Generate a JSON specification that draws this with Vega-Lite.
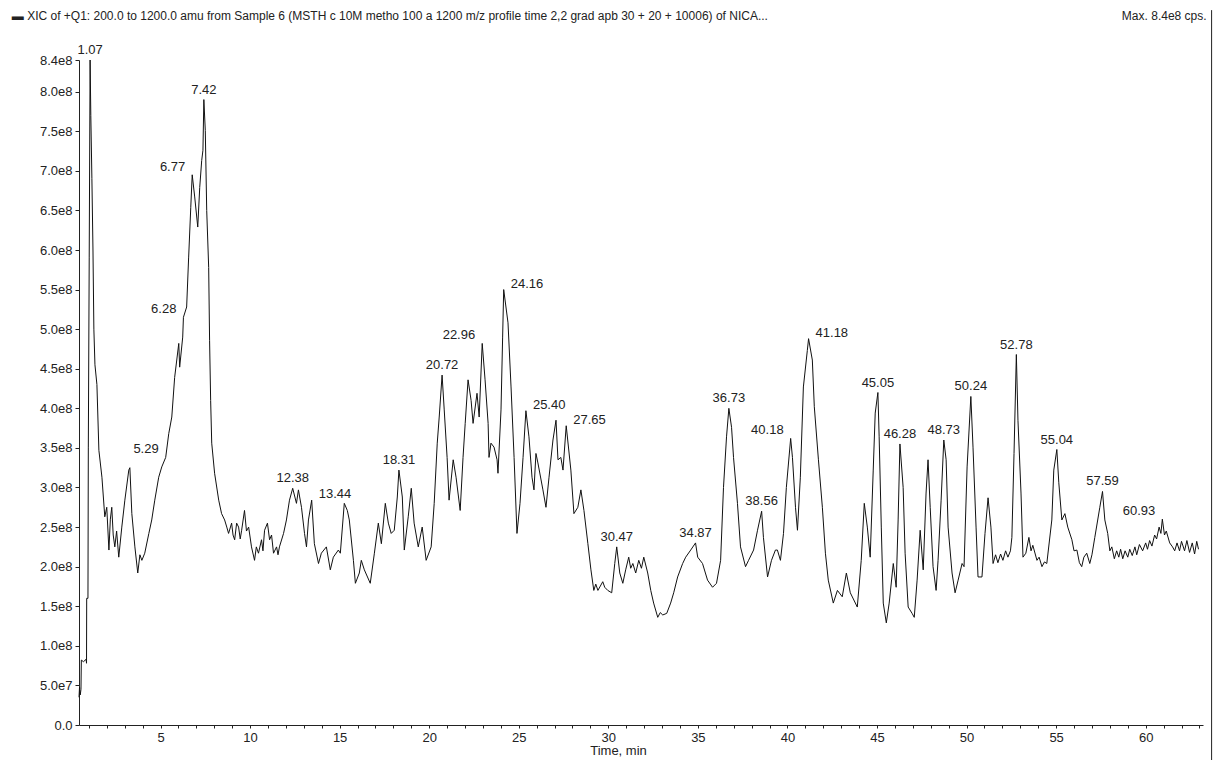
{
  "$schema": "https://vega.github.io/schema/vega-lite/v6.json",
  "width": 1124,
  "height": 665,
  "autosize": "none",
  "padding": {"left": 79, "top": 60, "right": 18, "bottom": 35},
  "background": "white",
  "config": {
    "view": {"stroke": null},
    "font": "Liberation Sans",
    "text": {"font": "Liberation Sans"},
    "axis": {"labelOverlap": false}
  },
  "datasets": {
    "trace": [
      {"t": 0.45, "intensity": 3.5e7}, {"t": 0.48, "intensity": 4.8e7}, {"t": 0.52, "intensity": 3.8e7}, {"t": 0.56, "intensity": 4.5e7},
      {"t": 0.58, "intensity": 8.2e7}, {"t": 0.7, "intensity": 8.0e7}, {"t": 0.85, "intensity": 8.3e7}, {"t": 0.87, "intensity": 7.8e7},
      {"t": 0.88, "intensity": 1.6e8}, {"t": 0.95, "intensity": 1.6e8}, {"t": 0.97, "intensity": 3.5e8}, {"t": 1.02, "intensity": 5.9e8},
      {"t": 1.07, "intensity": 8.4e8}, {"t": 1.11, "intensity": 7.7e8}, {"t": 1.17, "intensity": 6.9e8}, {"t": 1.23, "intensity": 6.0e8},
      {"t": 1.28, "intensity": 5.0e8}, {"t": 1.34, "intensity": 4.55e8}, {"t": 1.45, "intensity": 4.3e8}, {"t": 1.56, "intensity": 3.47e8},
      {"t": 1.73, "intensity": 3.13e8}, {"t": 1.89, "intensity": 2.63e8}, {"t": 2.0, "intensity": 2.75e8}, {"t": 2.12, "intensity": 2.21e8},
      {"t": 2.2, "intensity": 2.6e8}, {"t": 2.28, "intensity": 2.75e8}, {"t": 2.36, "intensity": 2.4e8},
      {"t": 2.45, "intensity": 2.25e8}, {"t": 2.55, "intensity": 2.45e8}, {"t": 2.67, "intensity": 2.12e8}, {"t": 2.84, "intensity": 2.5e8}, {"t": 3.01, "intensity": 2.84e8},
      {"t": 3.23, "intensity": 3.22e8}, {"t": 3.29, "intensity": 3.25e8}, {"t": 3.4, "intensity": 2.67e8}, {"t": 3.57, "intensity": 2.25e8},
      {"t": 3.73, "intensity": 1.92e8}, {"t": 3.85, "intensity": 2.15e8}, {"t": 3.96, "intensity": 2.08e8}, {"t": 4.12, "intensity": 2.17e8}, {"t": 4.35, "intensity": 2.42e8},
      {"t": 4.51, "intensity": 2.59e8}, {"t": 4.68, "intensity": 2.84e8}, {"t": 4.9, "intensity": 3.13e8}, {"t": 5.07, "intensity": 3.26e8},
      {"t": 5.29, "intensity": 3.38e8}, {"t": 5.46, "intensity": 3.68e8}, {"t": 5.63, "intensity": 3.89e8}, {"t": 5.79, "intensity": 4.39e8},
      {"t": 6.02, "intensity": 4.82e8}, {"t": 6.07, "intensity": 4.52e8}, {"t": 6.24, "intensity": 4.9e8}, {"t": 6.28, "intensity": 5.15e8},
      {"t": 6.46, "intensity": 5.28e8}, {"t": 6.57, "intensity": 5.9e8}, {"t": 6.69, "intensity": 6.54e8}, {"t": 6.77, "intensity": 6.95e8},
      {"t": 6.91, "intensity": 6.67e8}, {"t": 7.08, "intensity": 6.29e8}, {"t": 7.19, "intensity": 6.79e8}, {"t": 7.3, "intensity": 7.13e8},
      {"t": 7.37, "intensity": 7.26e8}, {"t": 7.42, "intensity": 7.9e8}, {"t": 7.5, "intensity": 7.51e8}, {"t": 7.58, "intensity": 6.5e8},
      {"t": 7.69, "intensity": 5.78e8}, {"t": 7.74, "intensity": 4.86e8}, {"t": 7.8, "intensity": 4.1e8}, {"t": 7.86, "intensity": 3.56e8},
      {"t": 8.02, "intensity": 3.18e8}, {"t": 8.25, "intensity": 2.84e8}, {"t": 8.41, "intensity": 2.67e8}, {"t": 8.58, "intensity": 2.59e8},
      {"t": 8.7, "intensity": 2.5e8}, {"t": 8.8, "intensity": 2.42e8}, {"t": 8.97, "intensity": 2.55e8}, {"t": 9.05, "intensity": 2.4e8}, {"t": 9.14, "intensity": 2.34e8}, {"t": 9.25, "intensity": 2.55e8}, {"t": 9.36, "intensity": 2.5e8},
      {"t": 9.45, "intensity": 2.35e8}, {"t": 9.53, "intensity": 2.46e8}, {"t": 9.69, "intensity": 2.71e8}, {"t": 9.8, "intensity": 2.45e8}, {"t": 9.92, "intensity": 2.5e8}, {"t": 10.08, "intensity": 2.25e8},
      {"t": 10.25, "intensity": 2.08e8}, {"t": 10.35, "intensity": 2.25e8}, {"t": 10.47, "intensity": 2.17e8}, {"t": 10.64, "intensity": 2.34e8}, {"t": 10.72, "intensity": 2.2e8}, {"t": 10.81, "intensity": 2.46e8},
      {"t": 10.97, "intensity": 2.55e8}, {"t": 11.09, "intensity": 2.34e8}, {"t": 11.2, "intensity": 2.4e8}, {"t": 11.31, "intensity": 2.17e8}, {"t": 11.48, "intensity": 2.25e8},
      {"t": 11.56, "intensity": 2.15e8}, {"t": 11.64, "intensity": 2.25e8}, {"t": 11.87, "intensity": 2.42e8}, {"t": 12.03, "intensity": 2.59e8}, {"t": 12.2, "intensity": 2.84e8},
      {"t": 12.38, "intensity": 2.99e8}, {"t": 12.59, "intensity": 2.8e8}, {"t": 12.7, "intensity": 2.97e8}, {"t": 12.87, "intensity": 2.75e8},
      {"t": 13.04, "intensity": 2.42e8}, {"t": 13.15, "intensity": 2.25e8}, {"t": 13.26, "intensity": 2.59e8}, {"t": 13.44, "intensity": 2.84e8},
      {"t": 13.59, "intensity": 2.29e8}, {"t": 13.82, "intensity": 2.04e8}, {"t": 13.98, "intensity": 2.17e8}, {"t": 14.26, "intensity": 2.25e8},
      {"t": 14.48, "intensity": 1.96e8}, {"t": 14.65, "intensity": 2.12e8}, {"t": 14.93, "intensity": 2.21e8}, {"t": 15.04, "intensity": 2.17e8},
      {"t": 15.26, "intensity": 2.8e8}, {"t": 15.43, "intensity": 2.71e8}, {"t": 15.54, "intensity": 2.59e8}, {"t": 15.77, "intensity": 2.08e8},
      {"t": 15.88, "intensity": 1.79e8}, {"t": 16.1, "intensity": 1.92e8}, {"t": 16.21, "intensity": 2.08e8}, {"t": 16.38, "intensity": 1.96e8},
      {"t": 16.71, "intensity": 1.79e8}, {"t": 16.94, "intensity": 2.17e8}, {"t": 17.16, "intensity": 2.55e8}, {"t": 17.33, "intensity": 2.29e8},
      {"t": 17.55, "intensity": 2.8e8}, {"t": 17.72, "intensity": 2.55e8}, {"t": 17.88, "intensity": 2.42e8}, {"t": 18.05, "intensity": 2.46e8},
      {"t": 18.22, "intensity": 2.88e8}, {"t": 18.31, "intensity": 3.22e8}, {"t": 18.5, "intensity": 2.88e8}, {"t": 18.61, "intensity": 2.21e8},
      {"t": 18.83, "intensity": 2.63e8}, {"t": 19.0, "intensity": 2.99e8}, {"t": 19.16, "intensity": 2.55e8}, {"t": 19.39, "intensity": 2.25e8},
      {"t": 19.61, "intensity": 2.5e8}, {"t": 19.83, "intensity": 2.08e8}, {"t": 20.11, "intensity": 2.25e8}, {"t": 20.28, "intensity": 2.8e8},
      {"t": 20.45, "intensity": 3.56e8}, {"t": 20.56, "intensity": 3.89e8}, {"t": 20.72, "intensity": 4.42e8}, {"t": 20.84, "intensity": 3.98e8},
      {"t": 21.0, "intensity": 3.38e8}, {"t": 21.11, "intensity": 2.84e8}, {"t": 21.34, "intensity": 3.35e8}, {"t": 21.5, "intensity": 3.13e8},
      {"t": 21.73, "intensity": 2.71e8}, {"t": 21.89, "intensity": 3.38e8}, {"t": 22.01, "intensity": 3.81e8}, {"t": 22.17, "intensity": 4.36e8},
      {"t": 22.34, "intensity": 4.1e8}, {"t": 22.45, "intensity": 3.81e8}, {"t": 22.67, "intensity": 4.19e8}, {"t": 22.79, "intensity": 3.89e8},
      {"t": 22.96, "intensity": 4.82e8}, {"t": 23.12, "intensity": 4.36e8}, {"t": 23.29, "intensity": 3.81e8}, {"t": 23.34, "intensity": 3.38e8},
      {"t": 23.45, "intensity": 3.56e8}, {"t": 23.62, "intensity": 3.51e8}, {"t": 23.79, "intensity": 3.35e8}, {"t": 23.84, "intensity": 3.18e8},
      {"t": 24.01, "intensity": 3.98e8}, {"t": 24.1, "intensity": 4.9e8}, {"t": 24.16, "intensity": 5.5e8}, {"t": 24.4, "intensity": 5.08e8},
      {"t": 24.57, "intensity": 4.27e8}, {"t": 24.74, "intensity": 3.38e8}, {"t": 24.9, "intensity": 2.42e8}, {"t": 25.07, "intensity": 2.8e8},
      {"t": 25.24, "intensity": 3.38e8}, {"t": 25.4, "intensity": 3.97e8}, {"t": 25.57, "intensity": 3.64e8}, {"t": 25.74, "intensity": 3.13e8},
      {"t": 25.85, "intensity": 2.97e8}, {"t": 25.96, "intensity": 3.43e8}, {"t": 26.07, "intensity": 3.31e8}, {"t": 26.35, "intensity": 2.97e8},
      {"t": 26.52, "intensity": 2.75e8}, {"t": 26.69, "intensity": 3.13e8}, {"t": 26.91, "intensity": 3.6e8}, {"t": 27.08, "intensity": 3.85e8},
      {"t": 27.19, "intensity": 3.35e8}, {"t": 27.35, "intensity": 3.38e8}, {"t": 27.47, "intensity": 3.22e8}, {"t": 27.65, "intensity": 3.78e8},
      {"t": 27.91, "intensity": 3.22e8}, {"t": 28.08, "intensity": 2.67e8}, {"t": 28.3, "intensity": 2.75e8}, {"t": 28.47, "intensity": 2.97e8},
      {"t": 28.64, "intensity": 2.71e8}, {"t": 28.86, "intensity": 2.29e8}, {"t": 29.03, "intensity": 1.96e8}, {"t": 29.19, "intensity": 1.7e8},
      {"t": 29.3, "intensity": 1.78e8}, {"t": 29.42, "intensity": 1.7e8}, {"t": 29.69, "intensity": 1.81e8}, {"t": 29.8, "intensity": 1.74e8}, {"t": 29.97, "intensity": 1.7e8}, {"t": 30.19, "intensity": 1.67e8},
      {"t": 30.36, "intensity": 2.04e8}, {"t": 30.47, "intensity": 2.25e8}, {"t": 30.64, "intensity": 1.92e8}, {"t": 30.81, "intensity": 1.79e8},
      {"t": 30.97, "intensity": 1.96e8}, {"t": 31.14, "intensity": 2.12e8}, {"t": 31.25, "intensity": 1.98e8}, {"t": 31.37, "intensity": 2.04e8}, {"t": 31.53, "intensity": 1.92e8},
      {"t": 31.7, "intensity": 2.08e8}, {"t": 31.85, "intensity": 1.98e8}, {"t": 31.98, "intensity": 2.12e8}, {"t": 32.2, "intensity": 1.92e8}, {"t": 32.37, "intensity": 1.7e8},
      {"t": 32.53, "intensity": 1.54e8}, {"t": 32.76, "intensity": 1.36e8}, {"t": 32.9, "intensity": 1.42e8}, {"t": 33.04, "intensity": 1.39e8}, {"t": 33.26, "intensity": 1.41e8},
      {"t": 33.48, "intensity": 1.54e8}, {"t": 33.65, "intensity": 1.67e8}, {"t": 33.87, "intensity": 1.87e8}, {"t": 34.15, "intensity": 2.04e8},
      {"t": 34.32, "intensity": 2.12e8}, {"t": 34.6, "intensity": 2.21e8}, {"t": 34.87, "intensity": 2.3e8}, {"t": 34.99, "intensity": 2.12e8},
      {"t": 35.26, "intensity": 2.04e8}, {"t": 35.54, "intensity": 1.83e8}, {"t": 35.82, "intensity": 1.74e8}, {"t": 36.04, "intensity": 1.79e8},
      {"t": 36.27, "intensity": 2.08e8}, {"t": 36.43, "intensity": 3.0e8}, {"t": 36.6, "intensity": 3.64e8}, {"t": 36.73, "intensity": 4.0e8},
      {"t": 36.88, "intensity": 3.76e8}, {"t": 36.99, "intensity": 3.38e8}, {"t": 37.21, "intensity": 2.8e8}, {"t": 37.38, "intensity": 2.25e8},
      {"t": 37.66, "intensity": 2.0e8}, {"t": 37.83, "intensity": 2.08e8}, {"t": 38.11, "intensity": 2.21e8}, {"t": 38.33, "intensity": 2.46e8},
      {"t": 38.56, "intensity": 2.7e8}, {"t": 38.66, "intensity": 2.37e8}, {"t": 38.89, "intensity": 1.87e8}, {"t": 39.11, "intensity": 2.08e8},
      {"t": 39.33, "intensity": 2.21e8}, {"t": 39.44, "intensity": 2.21e8}, {"t": 39.61, "intensity": 2.08e8}, {"t": 39.78, "intensity": 2.42e8},
      {"t": 39.94, "intensity": 3.0e8}, {"t": 40.18, "intensity": 3.62e8}, {"t": 40.28, "intensity": 3.38e8}, {"t": 40.45, "intensity": 2.75e8},
      {"t": 40.56, "intensity": 2.46e8}, {"t": 40.72, "intensity": 3.13e8}, {"t": 40.89, "intensity": 4.27e8}, {"t": 41.11, "intensity": 4.73e8},
      {"t": 41.18, "intensity": 4.88e8}, {"t": 41.39, "intensity": 4.61e8}, {"t": 41.5, "intensity": 4.02e8}, {"t": 41.73, "intensity": 3.35e8},
      {"t": 41.95, "intensity": 2.75e8}, {"t": 42.12, "intensity": 2.17e8}, {"t": 42.28, "intensity": 1.83e8}, {"t": 42.56, "intensity": 1.54e8},
      {"t": 42.79, "intensity": 1.7e8}, {"t": 43.06, "intensity": 1.62e8}, {"t": 43.29, "intensity": 1.92e8}, {"t": 43.51, "intensity": 1.67e8},
      {"t": 43.9, "intensity": 1.49e8}, {"t": 44.12, "intensity": 2.08e8}, {"t": 44.29, "intensity": 2.8e8}, {"t": 44.46, "intensity": 2.5e8},
      {"t": 44.62, "intensity": 2.12e8}, {"t": 44.79, "intensity": 3.22e8}, {"t": 44.9, "intensity": 3.94e8}, {"t": 45.05, "intensity": 4.2e8},
      {"t": 45.12, "intensity": 3.64e8}, {"t": 45.24, "intensity": 2.5e8}, {"t": 45.35, "intensity": 1.54e8}, {"t": 45.52, "intensity": 1.29e8},
      {"t": 45.68, "intensity": 1.54e8}, {"t": 45.91, "intensity": 2.04e8}, {"t": 46.07, "intensity": 1.74e8}, {"t": 46.18, "intensity": 2.59e8},
      {"t": 46.28, "intensity": 3.55e8}, {"t": 46.46, "intensity": 3.0e8}, {"t": 46.57, "intensity": 2.17e8}, {"t": 46.74, "intensity": 1.49e8},
      {"t": 46.96, "intensity": 1.41e8}, {"t": 47.08, "intensity": 1.36e8}, {"t": 47.24, "intensity": 1.83e8}, {"t": 47.41, "intensity": 2.46e8},
      {"t": 47.58, "intensity": 1.96e8}, {"t": 47.74, "intensity": 2.93e8}, {"t": 47.85, "intensity": 3.35e8}, {"t": 47.97, "intensity": 2.75e8},
      {"t": 48.13, "intensity": 2.0e8}, {"t": 48.3, "intensity": 1.7e8}, {"t": 48.41, "intensity": 2.08e8}, {"t": 48.58, "intensity": 2.84e8},
      {"t": 48.73, "intensity": 3.6e8}, {"t": 48.86, "intensity": 3.35e8}, {"t": 48.97, "intensity": 2.5e8}, {"t": 49.19, "intensity": 1.92e8},
      {"t": 49.36, "intensity": 1.67e8}, {"t": 49.53, "intensity": 1.83e8}, {"t": 49.75, "intensity": 2.04e8}, {"t": 49.86, "intensity": 2.0e8},
      {"t": 50.03, "intensity": 3.26e8}, {"t": 50.24, "intensity": 4.15e8}, {"t": 50.36, "intensity": 3.51e8}, {"t": 50.53, "intensity": 2.5e8},
      {"t": 50.64, "intensity": 1.87e8}, {"t": 50.86, "intensity": 1.87e8}, {"t": 51.03, "intensity": 2.42e8}, {"t": 51.2, "intensity": 2.87e8},
      {"t": 51.36, "intensity": 2.5e8}, {"t": 51.48, "intensity": 2.04e8}, {"t": 51.62, "intensity": 2.15e8}, {"t": 51.75, "intensity": 2.05e8}, {"t": 51.9, "intensity": 2.16e8}, {"t": 52.03, "intensity": 2.08e8},
      {"t": 52.18, "intensity": 2.2e8}, {"t": 52.31, "intensity": 2.12e8}, {"t": 52.45, "intensity": 2.2e8}, {"t": 52.53, "intensity": 2.37e8}, {"t": 52.65, "intensity": 3.43e8}, {"t": 52.78, "intensity": 4.68e8},
      {"t": 52.87, "intensity": 3.85e8}, {"t": 53.04, "intensity": 2.93e8}, {"t": 53.15, "intensity": 2.12e8}, {"t": 53.31, "intensity": 2.17e8},
      {"t": 53.48, "intensity": 2.37e8}, {"t": 53.6, "intensity": 2.2e8}, {"t": 53.7, "intensity": 2.27e8}, {"t": 53.93, "intensity": 2.08e8}, {"t": 54.05, "intensity": 2.12e8}, {"t": 54.21, "intensity": 2.0e8},
      {"t": 54.35, "intensity": 2.06e8}, {"t": 54.48, "intensity": 2.04e8}, {"t": 54.76, "intensity": 2.59e8}, {"t": 54.87, "intensity": 3.22e8}, {"t": 55.04, "intensity": 3.48e8},
      {"t": 55.15, "intensity": 3.06e8}, {"t": 55.32, "intensity": 2.59e8}, {"t": 55.49, "intensity": 2.67e8}, {"t": 55.65, "intensity": 2.5e8},
      {"t": 55.88, "intensity": 2.34e8}, {"t": 56.0, "intensity": 2.2e8}, {"t": 56.16, "intensity": 2.21e8}, {"t": 56.3, "intensity": 2.05e8}, {"t": 56.43, "intensity": 2.0e8}, {"t": 56.55, "intensity": 2.12e8}, {"t": 56.71, "intensity": 2.17e8},
      {"t": 56.88, "intensity": 2.04e8}, {"t": 57.0, "intensity": 2.15e8}, {"t": 57.16, "intensity": 2.37e8}, {"t": 57.44, "intensity": 2.75e8}, {"t": 57.59, "intensity": 2.95e8},
      {"t": 57.72, "intensity": 2.59e8}, {"t": 57.88, "intensity": 2.42e8}, {"t": 58.0, "intensity": 2.2e8}, {"t": 58.11, "intensity": 2.25e8},
      {"t": 58.25, "intensity": 2.1e8}, {"t": 58.38, "intensity": 2.2e8}, {"t": 58.5, "intensity": 2.12e8}, {"t": 58.6, "intensity": 2.22e8},
      {"t": 58.72, "intensity": 2.1e8}, {"t": 58.85, "intensity": 2.2e8}, {"t": 59.0, "intensity": 2.12e8}, {"t": 59.11, "intensity": 2.22e8},
      {"t": 59.25, "intensity": 2.14e8}, {"t": 59.4, "intensity": 2.25e8}, {"t": 59.5, "intensity": 2.15e8}, {"t": 59.65, "intensity": 2.28e8},
      {"t": 59.83, "intensity": 2.2e8}, {"t": 60.0, "intensity": 2.3e8}, {"t": 60.1, "intensity": 2.22e8}, {"t": 60.22, "intensity": 2.33e8},
      {"t": 60.35, "intensity": 2.26e8}, {"t": 60.5, "intensity": 2.4e8}, {"t": 60.61, "intensity": 2.35e8}, {"t": 60.75, "intensity": 2.5e8},
      {"t": 60.85, "intensity": 2.42e8}, {"t": 60.93, "intensity": 2.6e8}, {"t": 61.05, "intensity": 2.4e8}, {"t": 61.15, "intensity": 2.45e8},
      {"t": 61.34, "intensity": 2.3e8}, {"t": 61.5, "intensity": 2.25e8}, {"t": 61.62, "intensity": 2.2e8}, {"t": 61.75, "intensity": 2.3e8},
      {"t": 61.89, "intensity": 2.2e8}, {"t": 62.0, "intensity": 2.32e8}, {"t": 62.17, "intensity": 2.2e8}, {"t": 62.3, "intensity": 2.33e8},
      {"t": 62.45, "intensity": 2.18e8}, {"t": 62.6, "intensity": 2.3e8}, {"t": 62.73, "intensity": 2.16e8}, {"t": 62.85, "intensity": 2.32e8},
      {"t": 62.95, "intensity": 2.22e8}
    ],
    "peaksAbove": [
      {"t": 1.07, "intensity": 8.4e8, "label": "1.07"},
      {"t": 7.42, "intensity": 7.9e8, "label": "7.42"},
      {"t": 12.38, "intensity": 2.99e8, "label": "12.38"},
      {"t": 18.31, "intensity": 3.22e8, "label": "18.31"},
      {"t": 20.72, "intensity": 4.42e8, "label": "20.72"},
      {"t": 30.47, "intensity": 2.25e8, "label": "30.47"},
      {"t": 34.87, "intensity": 2.3e8, "label": "34.87"},
      {"t": 36.73, "intensity": 4.0e8, "label": "36.73"},
      {"t": 38.56, "intensity": 2.7e8, "label": "38.56"},
      {"t": 45.05, "intensity": 4.2e8, "label": "45.05"},
      {"t": 46.28, "intensity": 3.55e8, "label": "46.28"},
      {"t": 48.73, "intensity": 3.6e8, "label": "48.73"},
      {"t": 50.24, "intensity": 4.15e8, "label": "50.24"},
      {"t": 52.78, "intensity": 4.68e8, "label": "52.78"},
      {"t": 55.04, "intensity": 3.48e8, "label": "55.04"},
      {"t": 57.59, "intensity": 2.95e8, "label": "57.59"}
    ],
    "peaksLeft": [
      {"t": 5.29, "intensity": 3.38e8, "label": "5.29"},
      {"t": 6.28, "intensity": 5.15e8, "label": "6.28"},
      {"t": 6.77, "intensity": 6.95e8, "label": "6.77"},
      {"t": 22.96, "intensity": 4.82e8, "label": "22.96"},
      {"t": 40.18, "intensity": 3.62e8, "label": "40.18"},
      {"t": 60.93, "intensity": 2.6e8, "label": "60.93"}
    ],
    "peaksRight": [
      {"t": 13.44, "intensity": 2.84e8, "label": "13.44"},
      {"t": 24.16, "intensity": 5.5e8, "label": "24.16"},
      {"t": 25.4, "intensity": 3.97e8, "label": "25.40"},
      {"t": 27.65, "intensity": 3.78e8, "label": "27.65"},
      {"t": 41.18, "intensity": 4.88e8, "label": "41.18"}
    ],
    "header": [
      {"t": -3.3, "intensity": 896000000, "text": "▬  XIC of +Q1: 200.0 to 1200.0 amu from Sample 6 (MSTH c 10M metho 100 a 1200 m/z profile time 2,2 grad apb 30 + 20 + 10006) of NICA..."}
    ],
    "maxNote": [
      {"t": 63.4, "intensity": 896000000, "text": "Max. 8.4e8 cps."}
    ],
    "edge": [
      {"t": 63.68, "intensity": -45000000, "intensity2": 903000000}
    ]
  },
  "encoding": {
    "x": {
      "field": "t", "type": "quantitative",
      "scale": {"domain": [0.45, 63.2], "nice": false, "zero": false},
      "axis": {
        "values": [1,2,3,4,5,6,7,8,9,10,11,12,13,14,15,16,17,18,19,20,21,22,23,24,25,26,27,28,29,30,31,32,33,34,35,36,37,38,39,40,41,42,43,44,45,46,47,48,49,50,51,52,53,54,55,56,57,58,59,60,61,62,63],
        "labelExpr": "datum.value % 5 === 0 ? datum.label : ''",
        "format": "d",
        "labelOverlap": false,
        "grid": false,
        "tickSize": 3,
        "tickColor": "#222222",
        "domainColor": "#222222",
        "labelFont": "Liberation Sans",
        "labelFontSize": 13,
        "labelColor": "#222222",
        "labelPadding": 3,
        "labelFlush": false,
        "title": "Time, min",
        "titleFont": "Liberation Sans",
        "titleFontSize": 13,
        "titleFontWeight": "normal",
        "titleColor": "#222222",
        "titleX": 539,
        "titleY": 19,
        "titleBaseline": "top"
      }
    },
    "y": {
      "field": "intensity", "type": "quantitative",
      "scale": {"domain": [0, 840000000], "nice": false, "zero": true},
      "axis": {
        "values": [0, 50000000, 100000000, 150000000, 200000000, 250000000, 300000000, 350000000, 400000000, 450000000, 500000000, 550000000, 600000000, 650000000, 700000000, 750000000, 800000000, 840000000],
        "labelExpr": "datum.value == 0 ? '0.0' : (datum.value < 1e8 ? format(datum.value / 1e7, '.1f') + 'e7' : format(datum.value / 1e8, '.1f') + 'e8')",
        "labelOverlap": false,
        "grid": false,
        "tickSize": 4,
        "tickColor": "#222222",
        "domainColor": "#222222",
        "labelFont": "Liberation Sans",
        "labelFontSize": 13,
        "labelColor": "#222222",
        "labelPadding": 3,
        "labelFlush": false,
        "title": null
      }
    }
  },
  "layer": [
    {
      "data": {"name": "trace"},
      "mark": {"type": "line", "color": "#111111", "strokeWidth": 1}
    },
    {
      "data": {"name": "peaksAbove"},
      "mark": {"type": "text", "align": "center", "baseline": "bottom", "dy": -3, "fontSize": 13, "font": "Liberation Sans", "color": "#222222"},
      "encoding": {"text": {"field": "label"}}
    },
    {
      "data": {"name": "peaksLeft"},
      "mark": {"type": "text", "align": "right", "baseline": "middle", "dx": -7, "dy": -8, "fontSize": 13, "font": "Liberation Sans", "color": "#222222"},
      "encoding": {"text": {"field": "label"}}
    },
    {
      "data": {"name": "peaksRight"},
      "mark": {"type": "text", "align": "left", "baseline": "middle", "dx": 7, "dy": -6, "fontSize": 13, "font": "Liberation Sans", "color": "#222222"},
      "encoding": {"text": {"field": "label"}}
    },
    {
      "data": {"name": "header"},
      "mark": {"type": "text", "align": "left", "baseline": "middle", "fontSize": 12, "font": "Liberation Sans", "color": "#222222"},
      "encoding": {"text": {"field": "text"}}
    },
    {
      "data": {"name": "maxNote"},
      "mark": {"type": "text", "align": "right", "baseline": "middle", "fontSize": 12, "font": "Liberation Sans", "color": "#222222"},
      "encoding": {"text": {"field": "text"}}
    },
    {
      "data": {"name": "edge"},
      "mark": {"type": "rule", "color": "#222222", "strokeWidth": 1},
      "encoding": {"y2": {"field": "intensity2"}}
    }
  ]
}
